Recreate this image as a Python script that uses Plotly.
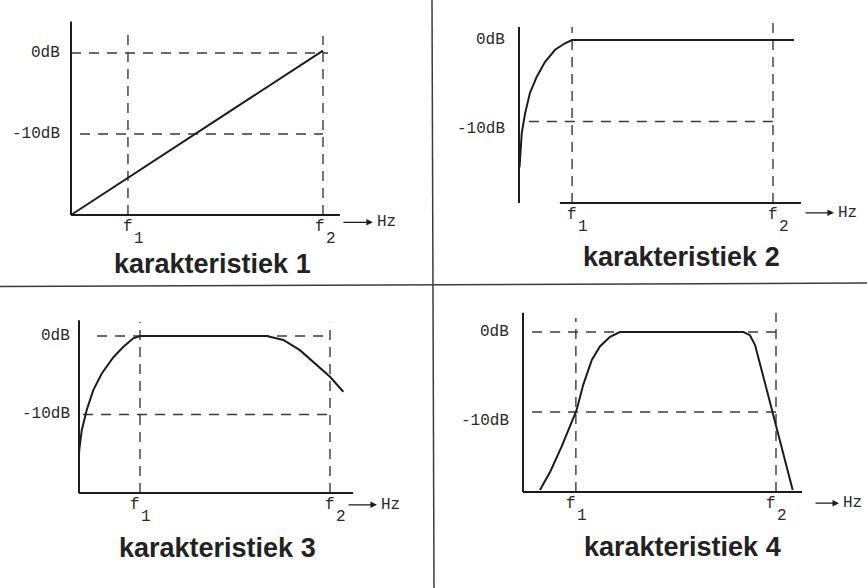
import plotly.graph_objects as go

W, H = 867, 588

# ---------------- data (x: frequency, axis = 0, f2 = 1 ; y: dB) ----------------
TITLES = ["karakteristiek 1", "karakteristiek 2", "karakteristiek 3", "karakteristiek 4"]
Y_TICK_VALS = [0, -10]
Y_TICK_TEXT = ["0dB", "-10dB"]
F_NAMES = ["f", "f"]
F_SUBS = ["1", "2"]
F1 = [0.226, 0.209, 0.243, 0.209]
F2 = [1.0, 1.0, 1.0, 1.0]
BASE_DB = -20

curve1_x = [0.0, 1.0]
curve1_y = [-20.0, 0.3]

curve2_x = [0.002, 0.004, 0.011, 0.024, 0.043, 0.070, 0.102, 0.142, 0.181, 0.209, 1.083]
curve2_y = [-15.6, -14.4, -11.4, -9.0, -6.5, -4.5, -2.7, -1.2, -0.4, 0.0, 0.0]

curve3_x = [0.0, 0.001, 0.011, 0.031, 0.057, 0.090, 0.137, 0.176, 0.216, 0.243, 0.748,
            0.814, 0.880, 0.947, 1.0, 1.053]
curve3_y = [-15.2, -14.5, -12.0, -9.4, -6.9, -4.8, -2.7, -1.4, -0.3, 0.0, 0.0,
            -0.5, -1.8, -3.7, -5.2, -7.1]

curve4_x = [0.067, 0.107, 0.153, 0.192, 0.212, 0.238, 0.272, 0.304, 0.344, 0.383, 0.871,
            0.897, 0.917, 0.943, 0.983, 1.023, 1.066]
curve4_y = [-19.75, -17.5, -14.3, -11.4, -9.75, -6.6, -3.5, -1.8, -0.6, 0.0, 0.0,
            -0.4, -1.6, -4.75, -9.75, -14.75, -19.75]

CURVES_X = [curve1_x, curve2_x, curve3_x, curve4_x]
CURVES_Y = [curve1_y, curve2_y, curve3_y, curve4_y]

# axis extents
YAXIS_TOP = [3.9, 1.6, 2.0, 2.4]
XAXIS_START = [0.0, 0.161, 0.0, 0.0]
XAXIS_END = [1.067, 1.110, 1.092, 1.103]
# guide lines
VF1_TOP = [2.5, 1.6, 1.8, 1.75]
VF2_TOP = [2.1, 2.1, 1.7, 2.4]
H0_START = [0.0, 0.209, 0.072, 0.036]
H0_END = [1.02, 1.0, 1.0, 1.0]
H10_START = [0.036, 0.039, 0.016, 0.036]
H10_END = [1.0, 1.0, 1.0, 1.0]
# arrow "-> Hz"
ARROW_X0 = [1.075, 1.122, 1.068, 1.150]
ARROW_X1 = [1.198, 1.240, 1.187, 1.249]
ARROW_Y = [-20.9, -21.2, -21.5, -21.4]
# title positions
TITLE_X = [0.563, 0.638, 0.55, 0.632]
TITLE_Y = [-26.0, -26.6, -27.0, -26.9]

# ---------------- layout calibration (pixels) ----------------
QUADS = [(0, 432, 0, 286), (434, 867, 0, 284), (0, 432, 289, 588), (434, 867, 289, 588)]
AXIS_PX = [71, 519, 79, 523]
F2_PX = [323, 773, 330, 776]
ZERO_PY = [53, 40, 336, 332]
BASE_PY = [215, 203, 493, 492]
YLAB_GAP = [9, 12, 7, 12]
YLAB_SHIFT10 = [0, -7, 0, -9]
F_SHIFT = [[0, -3], [0, 0], [-5, 0], [-5, -5]]

INK = "#1c1c1c"
GUIDE = "#3a3a3a"
MONO = dict(family="Liberation Mono, Courier New, monospace", size=16, color="#2a2a2a")

fig = go.Figure()
annotations = []
layout_axes = {}

for i in range(4):
    xn = "x" if i == 0 else f"x{i+1}"
    yn = "y" if i == 0 else f"y{i+1}"
    x0, x1, y0, y1 = QUADS[i]
    sx = F2_PX[i] - AXIS_PX[i]
    sy = (BASE_PY[i] - ZERO_PY[i]) / (-BASE_DB)
    xr = [(x0 - AXIS_PX[i]) / sx, (x1 - AXIS_PX[i]) / sx]
    yr = [-(y1 - ZERO_PY[i]) / sy, (ZERO_PY[i] - y0) / sy]
    layout_axes["xaxis" if i == 0 else f"xaxis{i+1}"] = dict(
        domain=[x0 / W, x1 / W], range=xr, visible=False, anchor=yn, fixedrange=True)
    layout_axes["yaxis" if i == 0 else f"yaxis{i+1}"] = dict(
        domain=[1 - y1 / H, 1 - y0 / H], range=yr, visible=False, anchor=xn, fixedrange=True)

    def line(xs, ys, color=INK, width=2, dash="solid"):
        fig.add_trace(go.Scatter(x=xs, y=ys, mode="lines", xaxis=xn, yaxis=yn,
                                 line=dict(color=color, width=width, dash=dash),
                                 hoverinfo="skip", showlegend=False))

    # guides (dashed)
    line([F1[i], F1[i]], [BASE_DB, VF1_TOP[i]], GUIDE, 1.4, "10px,7px")
    line([F2[i], F2[i]], [BASE_DB, VF2_TOP[i]], GUIDE, 1.4, "10px,7px")
    line([H0_START[i], H0_END[i]], [0, 0], GUIDE, 1.3, "10px,8px")
    line([H10_START[i], H10_END[i]], [-10, -10], GUIDE, 1.3, "10px,8px")
    # axes
    line([0, 0], [BASE_DB, YAXIS_TOP[i]], INK, 2)
    line([XAXIS_START[i], XAXIS_END[i]], [BASE_DB, BASE_DB], INK, 2)
    # curve
    line(CURVES_X[i], CURVES_Y[i], INK, 2)

    # y labels
    for v, t in zip(Y_TICK_VALS, Y_TICK_TEXT):
        annotations.append(dict(x=0, y=v, xref=xn, yref=yn, text=t, showarrow=False,
                                xanchor="right", yanchor="middle", xshift=-YLAB_GAP[i],
                                yshift=YLAB_SHIFT10[i] if v == -10 else 0, font=MONO))
    # f labels (letter + lowered index)
    for k, (fx, nm, sb) in enumerate(zip([F1[i], F2[i]], F_NAMES, F_SUBS)):
        dx = F_SHIFT[i][k]
        annotations.append(dict(x=fx, y=BASE_DB, xref=xn, yref=yn, text=nm, showarrow=False,
                                xanchor="center", yanchor="top", xshift=dx, yshift=-1,
                                font=MONO))
        annotations.append(dict(x=fx, y=BASE_DB, xref=xn, yref=yn, text=sb, showarrow=False,
                                xanchor="center", yanchor="top", xshift=dx + 11, yshift=-13,
                                font=MONO))
    # arrow -> Hz
    annotations.append(dict(x=ARROW_X1[i], y=ARROW_Y[i], ax=ARROW_X0[i], ay=ARROW_Y[i],
                            xref=xn, yref=yn, axref=xn, ayref=yn, text="", showarrow=True,
                            arrowhead=2, arrowsize=1, arrowwidth=1.3, arrowcolor=INK))
    annotations.append(dict(x=ARROW_X1[i], y=ARROW_Y[i], xref=xn, yref=yn, text="Hz",
                            showarrow=False, xanchor="left", yanchor="middle", xshift=2,
                            font=MONO))
    # title
    annotations.append(dict(x=TITLE_X[i], y=TITLE_Y[i], xref=xn, yref=yn, text=TITLES[i],
                            showarrow=False, xanchor="center", yanchor="middle",
                            font=dict(family="Liberation Sans, Arial, sans-serif", size=27,
                                      color="#222222", weight="bold")))

shapes = [
    dict(type="line", xref="paper", yref="paper", x0=432 / W, x1=434 / W, y0=1, y1=0,
         line=dict(color="#3c3c3c", width=1.5)),
    dict(type="line", xref="paper", yref="paper", x0=0, x1=1, y0=1 - 286.5 / H, y1=1 - 283 / H,
         line=dict(color="#3c3c3c", width=1.5)),
]

fig.update_layout(
    width=W, height=H, margin=dict(l=0, r=0, t=0, b=0),
    paper_bgcolor="white", plot_bgcolor="rgba(0,0,0,0)",
    annotations=annotations, shapes=shapes, showlegend=False,
    **layout_axes,
)

fig.write_html("out.html", config={"displayModeBar": False, "staticPlot": True},
               post_script="document.body.style.margin='0';document.body.style.padding='0';")
